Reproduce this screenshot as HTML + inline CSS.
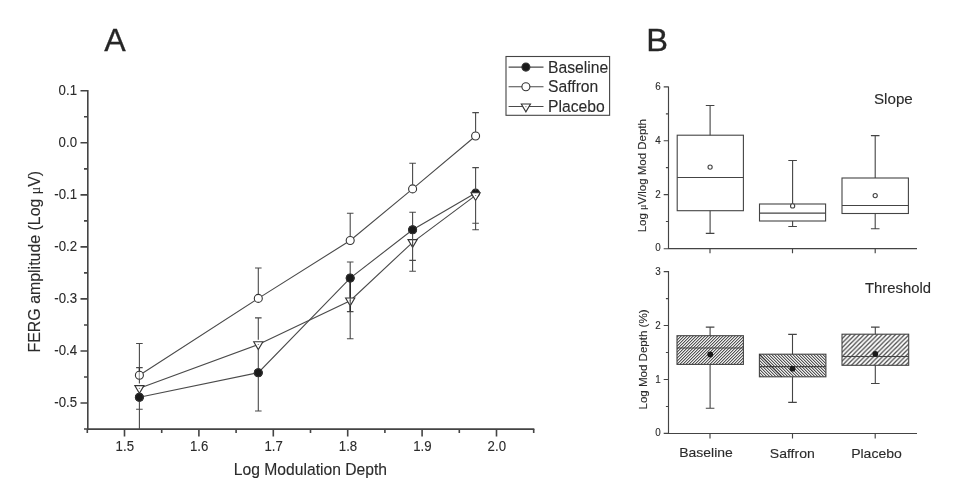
<!DOCTYPE html>
<html lang="en"><head><meta charset="utf-8"><title>Figure</title>
<style>html,body{margin:0;padding:0;background:#fff}svg{display:block}text{font-family:"Liberation Sans",Arial,Helvetica,sans-serif;fill:#2b2b2b;stroke:#2b2b2b;stroke-width:.12px}.big text{fill:#262626;stroke:#262626;stroke-width:.3px}.mu{font-family:"Liberation Serif","DejaVu Serif",serif;font-size:.88em;stroke-width:.05px}</style></head><body>
<svg width="966" height="498" viewBox="0 0 966 498">
<rect width="966" height="498" fill="#fff"/>
<defs>
<pattern id="h1" patternUnits="userSpaceOnUse" width="3" height="3" x="677" y="336"><path d="M0 0h1v1h-1zM2 1h1v1h-1zM1 2h1v1h-1z" fill="#555" shape-rendering="crispEdges"/><path d="M1 0h1v1h-1zM0 1h1v1h-1zM2 2h1v1h-1z" fill="#b4b4b4" shape-rendering="crispEdges"/><path d="M2 0h1v1h-1zM1 1h1v1h-1zM0 2h1v1h-1z" fill="#f0f0f0" shape-rendering="crispEdges"/></pattern>
<pattern id="h2" patternUnits="userSpaceOnUse" width="3" height="3" x="759" y="354"><path d="M0 0h1v1h-1zM1 1h1v1h-1zM2 2h1v1h-1z" fill="#555" shape-rendering="crispEdges"/><path d="M1 0h1v1h-1zM2 1h1v1h-1zM0 2h1v1h-1z" fill="#b4b4b4" shape-rendering="crispEdges"/><path d="M2 0h1v1h-1zM0 1h1v1h-1zM1 2h1v1h-1z" fill="#f0f0f0" shape-rendering="crispEdges"/></pattern>
<pattern id="h3" patternUnits="userSpaceOnUse" width="4.5" height="4.5" x="842" y="334.2"><rect width="4.5" height="4.5" fill="#fff"/><path d="M-1 5.5L5.5 -1M-1 1L1 -1M3.5 5.5L5.5 3.5" stroke="#444" stroke-width="1.25"/></pattern>
</defs>
<g stroke="#444" stroke-width="1.6" fill="none" stroke-linecap="butt">
<path d="M87.8 90.1V429.1H534.3"/>
<path d="M87.8 90.8h-7.3M87.8 142.8h-7.3M87.8 194.9h-7.3M87.8 246.9h-7.3M87.8 298.9h-7.3M87.8 351.0h-7.3M87.8 403.0h-7.3M87.8 116.8h-3.8M87.8 168.9h-3.8M87.8 220.9h-3.8M87.8 272.9h-3.8M87.8 325.0h-3.8M87.8 377.0h-3.8M87.8 429.0h-3.8M124.5 429.1v7.3M198.9 429.1v7.3M273.3 429.1v7.3M347.7 429.1v7.3M422.1 429.1v7.3M496.5 429.1v7.3M87.3 429.1v3.8M161.7 429.1v3.8M236.1 429.1v3.8M310.5 429.1v3.8M384.9 429.1v3.8M459.3 429.1v3.8M533.7 429.1v3.8"/>
</g>
<text transform="translate(77.00 94.72) scale(0.870 1)" font-size="15.20" text-anchor="end">0.1</text>
<text transform="translate(77.00 146.75) scale(0.870 1)" font-size="15.20" text-anchor="end">0.0</text>
<text transform="translate(77.00 198.78) scale(0.870 1)" font-size="15.20" text-anchor="end">-0.1</text>
<text transform="translate(77.00 250.81) scale(0.870 1)" font-size="15.20" text-anchor="end">-0.2</text>
<text transform="translate(77.00 302.84) scale(0.870 1)" font-size="15.20" text-anchor="end">-0.3</text>
<text transform="translate(77.00 354.87) scale(0.870 1)" font-size="15.20" text-anchor="end">-0.4</text>
<text transform="translate(77.00 406.90) scale(0.870 1)" font-size="15.20" text-anchor="end">-0.5</text>
<text transform="translate(124.80 450.80) scale(0.870 1)" font-size="15.20" text-anchor="middle">1.5</text>
<text transform="translate(199.20 450.80) scale(0.870 1)" font-size="15.20" text-anchor="middle">1.6</text>
<text transform="translate(273.60 450.80) scale(0.870 1)" font-size="15.20" text-anchor="middle">1.7</text>
<text transform="translate(348.00 450.80) scale(0.870 1)" font-size="15.20" text-anchor="middle">1.8</text>
<text transform="translate(422.40 450.80) scale(0.870 1)" font-size="15.20" text-anchor="middle">1.9</text>
<text transform="translate(496.80 450.80) scale(0.870 1)" font-size="15.20" text-anchor="middle">2.0</text>
<text transform="translate(310.45 475.20) scale(0.973 1)" font-size="16.10" text-anchor="middle">Log Modulation Depth</text>
<text transform="translate(40.10 261.65) rotate(-90) scale(0.936 1)" font-size="17.00" text-anchor="middle">FERG amplitude (Log <tspan class="mu">μ</tspan>V)</text>
<g class="big">
<text transform="translate(104.20 50.50)" font-size="32.20" text-anchor="start">A</text>
<text transform="translate(646.20 51.20) scale(1.020 1)" font-size="32.00" text-anchor="start">B</text>
</g>
<g stroke="#4a4a4a" stroke-width="1.1" fill="none">
<polyline points="139.4,397.3 258.3,372.7 350.2,278.1 412.6,229.8 475.6,193.1"/>
<polyline points="139.4,375.2 258.3,298.4 350.2,240.5 412.6,188.9 475.6,136.0"/>
<polyline points="139.4,388.3 258.3,344.5 350.2,300.7 412.6,242.3 475.6,195.4"/>
</g>
<g stroke="#333" stroke-width="1.1">
<circle cx="139.4" cy="397.3" r="4.0" fill="#1a1a1a"/>
<circle cx="258.3" cy="372.7" r="4.0" fill="#1a1a1a"/>
<circle cx="350.2" cy="278.1" r="4.0" fill="#1a1a1a"/>
<circle cx="412.6" cy="229.8" r="4.0" fill="#1a1a1a"/>
<circle cx="475.6" cy="193.1" r="4.0" fill="#1a1a1a"/>
<circle cx="139.4" cy="375.2" r="4.0" fill="#fff"/>
<circle cx="258.3" cy="298.4" r="4.0" fill="#fff"/>
<circle cx="350.2" cy="240.5" r="4.0" fill="#fff"/>
<circle cx="412.6" cy="188.9" r="4.0" fill="#fff"/>
<circle cx="475.6" cy="136.0" r="4.0" fill="#fff"/>
<g fill="#fff">
<path d="M134.8 385.6h9.2l-4.6 7.8z"/>
<path d="M253.7 341.8h9.2l-4.6 7.8z"/>
<path d="M345.6 298.0h9.2l-4.6 7.8z"/>
<path d="M408.0 239.6h9.2l-4.6 7.8z"/>
<path d="M471.0 192.7h9.2l-4.6 7.8z"/>
</g>
</g>
<g fill="#666">
<rect x="138.8" y="387.9" width="1.2" height="0.8"/>
<rect x="257.7" y="344.1" width="1.2" height="0.8"/>
<rect x="349.6" y="300.3" width="1.2" height="0.8"/>
<rect x="412.0" y="241.9" width="1.2" height="0.8"/>
<rect x="475.0" y="195.0" width="1.2" height="0.8"/>
</g>
<path d="M139.4 343.5V371.1M136.1 343.5h6.6M139.4 401.3V429.0M139.4 367.6V383.5M136.1 367.6h6.6M139.4 401.3V409.3M136.1 409.3h6.6M258.3 268.0V294.3M255.0 268.0h6.6M258.3 376.7V411.0M255.0 411.0h6.6M258.3 317.9V339.7M255.0 317.9h6.6M258.3 349.8V368.7M350.2 213.2V236.4M346.9 213.2h6.6M350.2 282.1V311.6M346.9 311.6h6.6M350.2 262.0V295.9M346.9 262.0h6.6M350.2 306.0V338.8M346.9 338.8h6.6M412.6 163.2V184.8M409.3 163.2h6.6M412.6 233.8V260.4M409.3 260.4h6.6M412.6 212.2V237.5M409.3 212.2h6.6M412.6 247.6V271.3M409.3 271.3h6.6M475.6 112.6V131.9M472.3 112.6h6.6M475.6 200.7V229.8M472.3 229.8h6.6M475.6 167.6V190.6M472.3 167.6h6.6M475.6 200.7V223.3M472.3 223.3h6.6" stroke="#4a4a4a" stroke-width="1.1" fill="none"/>
<path d="M350.2 281.1V297.7M350.2 305.7V311.6" stroke="#2a2a2a" stroke-width="1.5" fill="none"/>
<path d="M139.4 367.6V371.2" stroke="#333" stroke-width="1.3" fill="none"/>
<path d="M139.4 372.0V378.4" stroke="#fff" stroke-opacity=".5" stroke-width="1.6" fill="none"/>
<circle cx="139.4" cy="397.3" r="4.0" fill="#1a1a1a" stroke="#333" stroke-width="1"/>
<circle cx="258.3" cy="372.7" r="4.0" fill="#1a1a1a" stroke="#333" stroke-width="1"/>
<circle cx="350.2" cy="278.1" r="4.0" fill="#1a1a1a" stroke="#333" stroke-width="1"/>
<circle cx="412.6" cy="229.8" r="4.0" fill="#1a1a1a" stroke="#333" stroke-width="1"/>
<rect x="506.0" y="56.5" width="103.6" height="58.8" fill="#fff" stroke="#444" stroke-width="1.1"/>
<path d="M508.6 67.1H543.5M508.6 86.8H543.5M508.6 106.5H543.5" stroke="#4a4a4a" stroke-width="1.1"/>
<g stroke="#333" stroke-width="1.1">
<circle cx="525.9" cy="67.1" r="4.0" fill="#1a1a1a"/>
<circle cx="525.9" cy="86.8" r="4.0" fill="#fff"/>
<g fill="#fff"><path d="M521.3 104.0h9.2l-4.6 7.8z"/></g>
</g>
<rect x="525.3" y="106.3" width="1.2" height="0.8" fill="#666"/>
<text transform="translate(548.00 73.05) scale(0.952 1)" font-size="16.50" text-anchor="start">Baseline</text>
<text transform="translate(548.00 91.90) scale(0.952 1)" font-size="16.50" text-anchor="start">Saffron</text>
<text transform="translate(548.00 111.50) scale(0.952 1)" font-size="16.50" text-anchor="start">Placebo</text>
<g stroke="#444" stroke-width="1.15" fill="none">
<path d="M668.5 86.4V248.65H917.0M668.5 248.7h-4.8M668.5 194.6h-4.8M668.5 140.7h-4.8M668.5 86.9h-4.8M668.5 221.5h-2.6M668.5 167.6h-2.6M668.5 113.8h-2.6M710.0 248.65v4.6M792.5 248.65v4.6M875.2 248.65v4.6M668.5 271.1V433.45H917.0M668.5 433.4h-4.8M668.5 379.5h-4.8M668.5 325.5h-4.8M668.5 271.6h-4.8M668.5 406.5h-2.6M668.5 352.5h-2.6M668.5 298.6h-2.6M710.0 433.45v5M792.5 433.45v5M875.2 433.45v5"/>
</g>
<text transform="translate(660.70 251.40) scale(0.920 1)" font-size="10.70" text-anchor="end">0</text>
<text transform="translate(660.70 197.56) scale(0.920 1)" font-size="10.70" text-anchor="end">2</text>
<text transform="translate(660.70 143.72) scale(0.920 1)" font-size="10.70" text-anchor="end">4</text>
<text transform="translate(660.70 89.88) scale(0.920 1)" font-size="10.70" text-anchor="end">6</text>
<text transform="translate(660.70 436.45) scale(0.920 1)" font-size="10.70" text-anchor="end">0</text>
<text transform="translate(660.70 382.50) scale(0.920 1)" font-size="10.70" text-anchor="end">1</text>
<text transform="translate(660.70 328.55) scale(0.920 1)" font-size="10.70" text-anchor="end">2</text>
<text transform="translate(660.70 274.60) scale(0.920 1)" font-size="10.70" text-anchor="end">3</text>
<text transform="translate(645.80 175.70) rotate(-90) scale(0.990 1)" font-size="11.60" text-anchor="middle">Log <tspan class="mu">μ</tspan>V/log Mod Depth</text>
<text transform="translate(647.20 359.50) rotate(-90) scale(0.996 1)" font-size="11.60" text-anchor="middle">Log Mod Depth (%)</text>
<text transform="translate(874.00 104.15) scale(1.025 1)" font-size="14.80" text-anchor="start">Slope</text>
<text transform="translate(865.00 292.70) scale(1.024 1)" font-size="14.50" text-anchor="start">Threshold</text>
<text transform="translate(706.00 456.90) scale(1.060 1)" font-size="13.20" text-anchor="middle">Baseline</text>
<text transform="translate(792.30 458.40) scale(1.040 1)" font-size="13.50" text-anchor="middle">Saffron</text>
<text transform="translate(876.50 458.40) scale(1.040 1)" font-size="13.50" text-anchor="middle">Placebo</text>
<g stroke="#444" stroke-width="1.1" fill="none">
<rect x="677.2" y="135.2" width="66.2" height="75.5" fill="#fff"/><path d="M677.2 177.5H743.4M710.1 105.5V135.2M710.1 210.7V233.4M705.8 105.5h8.6M705.8 233.4h8.6"/>
<rect x="759.5" y="204.0" width="66.1" height="17.0" fill="#fff"/><path d="M759.5 213.1H825.6M792.6 160.5V204.0M792.6 221.0V226.5M788.3 160.5h8.6M788.3 226.5h8.6"/>
<rect x="842.0" y="178.0" width="66.4" height="35.5" fill="#fff"/><path d="M842.0 205.5H908.4M875.2 135.6V178.0M875.2 213.5V228.8M870.9 135.6h8.6M870.9 228.8h8.6"/>
<circle cx="710.1" cy="167.1" r="2.1" fill="#fff"/>
<circle cx="792.6" cy="205.9" r="2.1" fill="#fff"/>
<circle cx="875.2" cy="195.6" r="2.1" fill="#fff"/>
<rect x="677.0" y="335.7" width="66.4" height="28.7" fill="url(#h1)"/><path d="M677.0 348.0H743.4M710.1 327.1V335.7M710.1 364.4V408.3M705.8 327.1h8.6M705.8 408.3h8.6"/>
<rect x="759.4" y="354.2" width="66.5" height="22.6" fill="url(#h2)"/><path d="M759.4 366.6H825.9M792.5 334.4V354.2M792.5 376.8V402.4M788.2 334.4h8.6M788.2 402.4h8.6"/>
<rect x="842.0" y="334.2" width="66.7" height="31.1" fill="url(#h3)"/><path d="M842.0 356.5H908.7M875.3 327.1V334.2M875.3 365.3V383.5M871.0 327.1h8.6M871.0 383.5h8.6"/>
<path d="M759.5 354.5L781.8 376.8" stroke="#333" stroke-width="1.15"/>
</g>
<g fill="#1a1a1a">
<circle cx="710.2" cy="354.5" r="2.9"/>
<circle cx="792.5" cy="368.7" r="2.9"/>
<circle cx="875.3" cy="353.9" r="2.9"/>
</g>
</svg></body></html>
